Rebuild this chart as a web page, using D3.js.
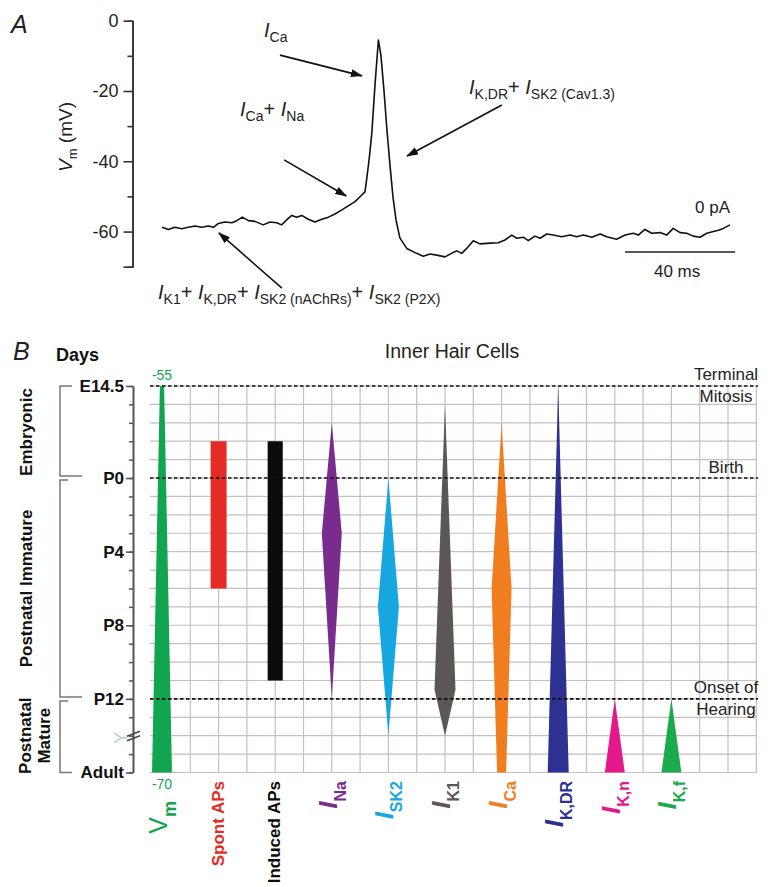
<!DOCTYPE html>
<html>
<head>
<meta charset="utf-8">
<script src="https://cdn.jsdelivr.net/npm/d3@7/dist/d3.min.js"></script>
<style>
  body { margin: 0; background: #fff; }
  svg text { font-family: "Liberation Sans", Arial, Helvetica, sans-serif; }
</style>
</head>
<body>
<svg id="fig" width="775" height="887"></svg>
<script>
// ---------- Panel A data: spontaneous AP (time ms, Vm mV)
const traceMs = [0,2.3,4.7,7.2,9.6,12.0,14.4,16.8,18.7,20.5,22.9,25.4,27.2,29.2,31.4,33.8,36.8,39.3,41.7,43.5,
  45.3,47.2,49.0,50.8,53.2,55.6,58.1,60.5,62.9,65.3,67.7,70.2,72.0,73.8,74.4,75.3,76.3,77.5,78.7,79.6,
  80.7,81.8,82.9,84.0,85.1,86.5,89.0,92.6,95.0,97.5,99.9,102.9,105.3,107.2,109.0,110.8,113.2,115.6,119.3,122.3,
  124.7,127.2,129.0,131.4,133.2,135.6,137.5,139.9,142.3,145.3,148.4,150.8,153.2,156.3,159.3,161.7,165.3,168.4,171.4,173.2,
  175.6,178.1,181.1,183.5,185.9,188.4,190.8,193.2,195.6,198.1,200.5,202.3,204.1,206.5];
const traceMv = [-58.8,-59.4,-58.8,-59.2,-58.8,-58.4,-58.8,-58.4,-58.8,-57.7,-57.3,-57.5,-56.9,-55.9,-56.9,-57.1,-58.1,-57.3,-57.5,-58.1,
  -56.7,-55.4,-55.9,-55.4,-56.5,-57.3,-56.5,-55.9,-55.0,-53.9,-52.7,-51.5,-50.1,-48.7,-45.3,-39.6,-32.0,-17.7,-5.5,-9.8,
  -19.7,-31.1,-41.1,-50.2,-56.7,-61.8,-64.8,-66.2,-67.0,-66.4,-66.7,-67.2,-66.2,-65.5,-66.2,-64.8,-62.6,-63.5,-63.3,-63.2,
  -62.4,-61.0,-61.9,-61.6,-62.6,-61.3,-61.9,-60.7,-61.0,-61.5,-61.0,-61.5,-61.0,-61.6,-60.7,-61.5,-62.2,-61.0,-60.5,-61.0,
  -59.4,-60.5,-60.3,-61.0,-59.1,-60.3,-60.5,-61.3,-61.6,-60.5,-60.0,-59.6,-59.1,-58.1];
const mvMajor = [0, -20, -40, -60, -70];
const mvMinor = [-10, -30, -50];
const scaleBarMs = 40;

// ---------- Panel B data: developmental profile of inner hair cells
// schematic day axis: E14.5 drawn 5 steps before P0
const stageDays = [-5, 0, 4, 8, 12, 16];
const stageNames = ['E14.5', 'P0', 'P4', 'P8', 'P12', 'Adult'];
const milestoneDays = [-5, 0, 12];
const milestoneNames = [['Terminal', 'Mitosis'], ['Birth'], ['Onset of', 'Hearing']];
const periodNames = [['Embryonic'], ['Postnatal Immature'], ['Postnatal', 'Mature']];
const periodSpans = [[-5, 0], [0, 12], [12, 16]];

const propNames = ['Vm', 'Spont APs', 'Induced APs', 'INa', 'ISK2', 'IK1', 'ICa', 'IK,DR', 'IK,n', 'IK,f'];
const propColors = ['#12a54f', '#e52b26', '#0b0b0b', '#7a2c8e', '#17a7e0', '#5d5656', '#f07e20', '#2c3192', '#e3198b', '#1bab4c'];
// days where the profile changes, and relative size there (0..1)
const propDays = [[-5, 16], [-2, 6], [-2, 11], [-3, 3, 12], [0, 7, 14], [-4, 11.5, 14], [-3, 6, 16], [-5, 16], [12, 16], [12, 16]];
const propLevels = [[0.2, 0.95], [0.76, 0.76], [0.72, 0.72], [0, 0.95, 0], [0, 1, 0], [0, 1, 0], [0, 0.95, 0.43], [0, 1], [0, 0.95], [0, 0.95]];
const vmRange = [-55, -70];

// ------------------------------------------------------------------
const svg = d3.select('#fig');

// rich text: parts = [[text, kind]] kind: i italic, n normal, s subscript, b bold
function rich(sel, parts, base, sub, subDy, subWeight, mainWeight) {
  let down = false;
  parts.forEach(([t, k]) => {
    const ts = sel.append('tspan').text(t);
    if (k === 's') {
      ts.attr('font-size', sub).attr('font-weight', subWeight);
      if (!down) { ts.attr('dy', subDy); down = true; }
    } else {
      ts.attr('font-size', base);
      if (k === 'i') ts.attr('font-style', 'italic').attr('font-weight', mainWeight || 'normal');
      if (k === 'b') ts.attr('font-weight', 'bold');
      if (down) { ts.attr('dy', -subDy); down = false; }
    }
  });
  return sel;
}

// ================= PANEL A =================
const xT = d3.scaleLinear([0, 40], [162, 272]);
const yV = d3.scaleLinear([-70, 0], [266.7, 20.7]);
const gA = svg.append('g');

gA.append('text').attr('x', 11).attr('y', 33).attr('font-size', 25)
  .attr('font-style', 'italic').attr('fill', '#222').text('A');

const axA = gA.append('g').attr('transform', 'translate(132.5,0)')
  .call(d3.axisLeft(yV).tickValues(mvMajor).tickSize(9).tickPadding(5).tickSizeOuter(0)
    .tickFormat(d => d === -70 ? '' : String(d)));
axA.append('g').call(d3.axisLeft(yV).tickValues(mvMinor).tickSize(5).tickFormat(''));
axA.selectAll('path.domain').attr('stroke', '#333').attr('stroke-width', 1.6);
axA.selectAll('.tick line').attr('stroke', '#333').attr('stroke-width', 1.6);
axA.selectAll('.tick text').attr('font-size', 18).attr('fill', '#222');

const yLab = gA.append('text').attr('transform', 'translate(72,137) rotate(-90)')
  .attr('text-anchor', 'middle').attr('fill', '#222');
rich(yLab, [['V', 'i'], ['m', 's'], [' (mV)', 'n']], 19, 13, 5, 'normal');

gA.append('path').datum(traceMs.map((t, i) => [t, traceMv[i]]))
  .attr('fill', 'none').attr('stroke', '#111').attr('stroke-width', 1.6).attr('stroke-linejoin', 'round')
  .attr('d', d3.line().x(d => xT(d[0])).y(d => yV(d[1])));

// arrows
svg.append('defs').append('marker').attr('id', 'ah').attr('viewBox', '0 0 12 8')
  .attr('refX', 11).attr('refY', 4).attr('markerWidth', 12).attr('markerHeight', 8)
  .attr('markerUnits', 'userSpaceOnUse').attr('orient', 'auto')
  .append('path').attr('d', 'M0,0 L12,4 L0,8 z').attr('fill', '#111');

const arrowsA = [
  [[42.9, -9.8], [72.7, -15.7]],
  [[44.4, -39.6], [67.0, -49.9]],
  [[123.6, -24.0], [89.1, -38.5]],
  [[43.6, -76.1], [20.7, -60.4]]
];
gA.selectAll('line.arr').data(arrowsA).join('line').attr('class', 'arr')
  .attr('x1', d => xT(d[0][0])).attr('y1', d => yV(d[0][1]))
  .attr('x2', d => xT(d[1][0])).attr('y2', d => yV(d[1][1]))
  .attr('stroke', '#111').attr('stroke-width', 1.6).attr('marker-end', 'url(#ah)');

const labelsA = [
  {x: 264, y: 37, parts: [['I', 'i'], ['Ca', 's']]},
  {x: 240, y: 116, parts: [['I', 'i'], ['Ca', 's'], ['+ ', 'n'], ['I', 'i'], ['Na', 's']]},
  {x: 469, y: 94, parts: [['I', 'i'], ['K,DR', 's'], ['+ ', 'n'], ['I', 'i'], ['SK2 (Cav1.3)', 's']]},
  {x: 158, y: 299, parts: [['I', 'i'], ['K1', 's'], ['+ ', 'n'], ['I', 'i'], ['K,DR', 's'], ['+ ', 'n'],
    ['I', 'i'], ['SK2 (nAChRs)', 's'], ['+ ', 'n'], ['I', 'i'], ['SK2 (P2X)', 's']]}
];
labelsA.forEach(l => {
  rich(gA.append('text').attr('x', l.x).attr('y', l.y).attr('fill', '#222'), l.parts, 20, 14, 5, 'normal');
});

gA.append('text').attr('x', 730).attr('y', 213).attr('text-anchor', 'end')
  .attr('font-size', 17).attr('fill', '#222').text('0 pA');
const sbStart = 168.4;
gA.append('line').attr('x1', xT(sbStart)).attr('x2', xT(sbStart + scaleBarMs))
  .attr('y1', 252).attr('y2', 252).attr('stroke', '#222').attr('stroke-width', 1.6);
gA.append('text').attr('x', (xT(sbStart) + xT(sbStart + scaleBarMs)) / 2 - 3).attr('y', 277)
  .attr('text-anchor', 'middle').attr('font-size', 17).attr('fill', '#222').text(scaleBarMs + ' ms');

// ================= PANEL B =================
const yD = d3.scaleLinear([-5, 16], [386, 772.5]);
const xC = d3.scaleLinear([0, 21], [162, 756.3]);
const wS = d3.scaleLinear([0, 1], [0, 21]);
const gB = svg.append('g');
const gridL = 150, gridR = 757;

gB.append('text').attr('x', 13).attr('y', 360).attr('font-size', 25)
  .attr('font-style', 'italic').attr('fill', '#222').text('B');
gB.append('text').attr('x', 56).attr('y', 361).attr('font-size', 18)
  .attr('font-weight', 'bold').attr('fill', '#111').text('Days');
gB.append('text').attr('x', 452).attr('y', 358).attr('text-anchor', 'middle')
  .attr('font-size', 19.5).attr('fill', '#222').text('Inner Hair Cells');

// grid
gB.append('g').selectAll('line').data(d3.range(-5, 17)).join('line')
  .attr('x1', gridL).attr('x2', gridR).attr('y1', d => yD(d)).attr('y2', d => yD(d))
  .attr('stroke', '#c8bebe').attr('stroke-width', 1.2);
gB.append('g').selectAll('line').data(d3.range(0, 22)).join('line')
  .attr('x1', d => xC(d)).attr('x2', d => xC(d)).attr('y1', yD(-5)).attr('y2', yD(16))
  .attr('stroke', '#c8bebe').attr('stroke-width', 1.2);

// shapes
const area = d3.area().curve(d3.curveLinear)
  .y(d => yD(d.day)).x0(d => d.cx - wS(d.lv) / 2).x1(d => d.cx + wS(d.lv) / 2);
propNames.forEach((name, i) => {
  const cx = xC(i * 2);
  const pts = propDays[i].map((day, j) => ({day, lv: propLevels[i][j], cx}));
  gB.append('path').datum(pts).attr('d', area).attr('fill', propColors[i]);
});

// milestone dashed lines (drawn over shapes)
milestoneDays.forEach((d, i) => {
  gB.append('line').attr('x1', gridL).attr('x2', gridR + 1).attr('y1', yD(d)).attr('y2', yD(d))
    .attr('stroke', '#111').attr('stroke-width', 1.6).attr('stroke-dasharray', '3.5,2.5');
  const names = milestoneNames[i];
  const offs = names.length === 2 ? [-6, 16] : [-5];
  names.forEach((n, j) => {
    gB.append('text').attr('x', 726).attr('y', yD(d) + offs[j]).attr('text-anchor', 'middle')
      .attr('font-size', 17).attr('fill', '#222').text(n);
  });
});

// Vm range numbers
gB.append('text').attr('x', xC(0)).attr('y', 380).attr('text-anchor', 'middle')
  .attr('font-size', 14).attr('fill', propColors[0]).text(vmRange[0]);
gB.append('text').attr('x', xC(0)).attr('y', 789).attr('text-anchor', 'middle')
  .attr('font-size', 14).attr('fill', propColors[0]).text(vmRange[1]);

// left axis
const axB = gB.append('g').attr('transform', 'translate(133,0)')
  .call(d3.axisLeft(yD).tickValues(stageDays).tickSize(7).tickPadding(2).tickSizeOuter(0)
    .tickFormat((d, i) => stageNames[i]));
axB.append('g').call(d3.axisLeft(yD).tickValues(d3.range(-5, 17)).tickSize(4).tickFormat('').tickSizeOuter(0));
axB.selectAll('path.domain').attr('stroke', '#555').attr('stroke-width', 1.6);
axB.selectAll('.tick line').attr('stroke', '#555').attr('stroke-width', 1.5);
axB.selectAll('.tick text').attr('font-size', 17).attr('font-weight', 'bold').attr('fill', '#111');

// axis break
const yb = yD(14);
gB.append('text').attr('transform', `translate(127,${yb + 2}) rotate(-90)`).attr('text-anchor', 'middle')
  .attr('font-size', 18).attr('fill', '#a9d9b4').text('Y');
[-2.5, 2].forEach(o => {
  gB.append('line').attr('x1', 127).attr('x2', 140).attr('y1', yb + o + 3).attr('y2', yb + o - 2)
    .attr('stroke', '#444').attr('stroke-width', 1.5);
});

// period brackets and names
periodSpans.forEach((s, i) => {
  const y0 = yD(s[0]) + (i > 0 ? 2 : 0), y1 = yD(s[1]) - (i < 2 ? 2 : 0);
  const endLen = i < 2 ? 22 : 12;
  gB.append('path').attr('fill', 'none').attr('stroke', '#7d7676').attr('stroke-width', 1.5)
    .attr('d', `M${60 + (i > 0 ? 8 : 12)},${y0} H60 V${y1} H${60 + endLen}`);
  const names = periodNames[i];
  const cy = (yD(s[0]) + yD(s[1])) / 2;
  names.forEach((n, j) => {
    const bx = names.length === 2 ? 31 + j * 19 : 32;
    gB.append('text').attr('transform', `translate(${bx},${cy}) rotate(-90)`)
      .attr('text-anchor', 'middle').attr('font-size', 17).attr('font-weight', 'bold')
      .attr('fill', '#111').text(n);
  });
});

// bottom labels
const labelParts = propNames.map(n => {
  if (n === 'Vm') return [['V', 'n'], ['m', 's']];
  if (n.startsWith('I') && !n.includes('APs')) return [['I', 'i'], [n.slice(1), 's']];
  return [[n, 'b']];
});
propNames.forEach((n, i) => {
  const cx = xC(i * 2);
  const top = n === 'Vm' ? 801 : 781;
  const t = gB.append('text').attr('transform', `translate(${cx + 5},${top}) rotate(-90)`)
    .attr('text-anchor', 'end').attr('fill', propColors[i]);
  if (n === 'Vm') rich(t, labelParts[i], 25, 18, 9, 'bold');
  else if (labelParts[i][0][1] === 'b') rich(t, labelParts[i], 17, 17, 0, 'bold');
  else rich(t, labelParts[i], 26, 16, 9, 'bold', 'bold');
});
</script>
</body>
</html>
